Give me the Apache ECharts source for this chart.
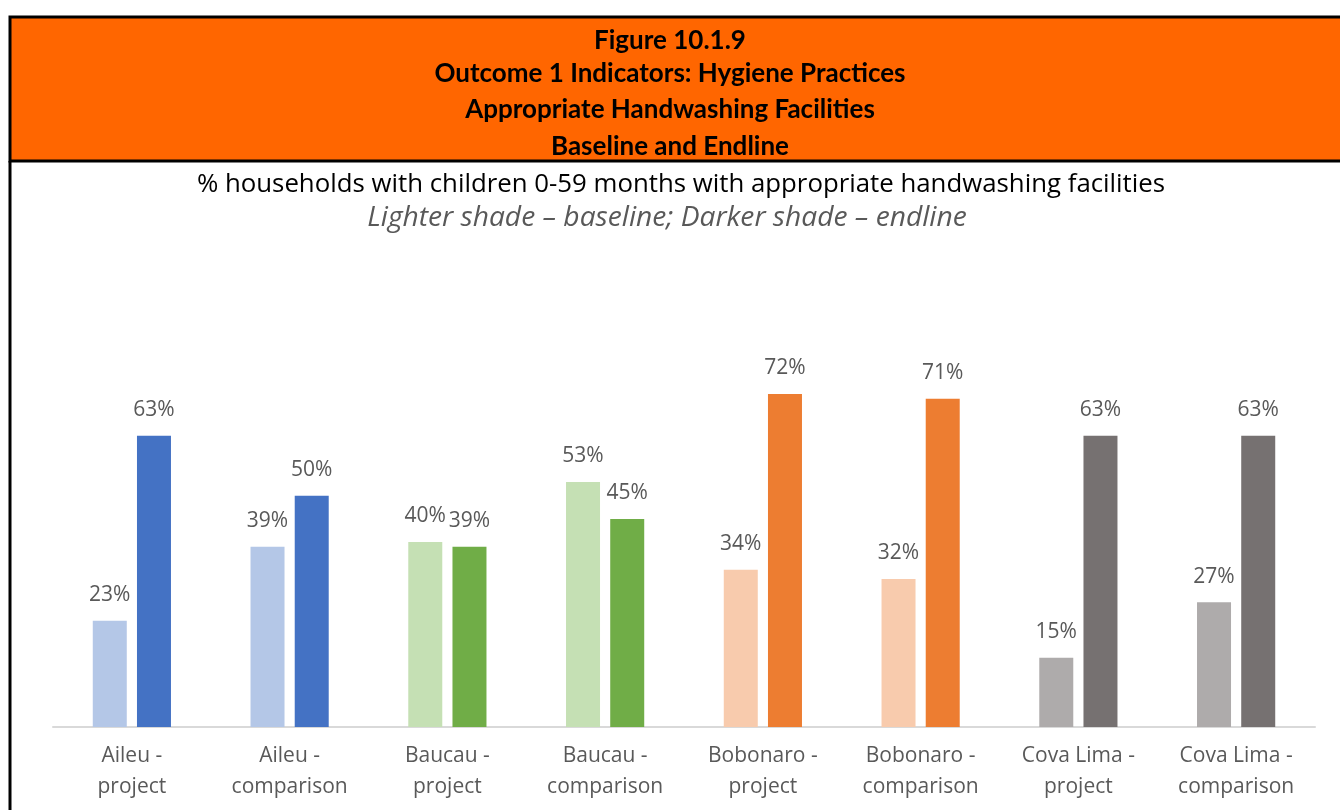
<!DOCTYPE html>
<html>
<head>
<meta charset="utf-8">
<script src="https://cdn.jsdelivr.net/npm/echarts@6/dist/echarts.min.js"></script>
<style>
  html, body { margin: 0; padding: 0; background: #fff; }
  #chart { width: 1340px; height: 810px; }
</style>
</head>
<body>
<div id="chart"></div>
<script>
// Districts and study arms
const categories = [
  'Aileu -\nproject', 'Aileu -\ncomparison',
  'Baucau -\nproject', 'Baucau -\ncomparison',
  'Bobonaro -\nproject', 'Bobonaro -\ncomparison',
  'Cova Lima -\nproject', 'Cova Lima -\ncomparison'
];
// % households with appropriate handwashing facilities
const baseline = [23, 39, 40, 53, 34, 32, 15, 27];
const endline  = [63, 50, 39, 45, 72, 71, 63, 63];

// Shades per district (light = baseline, dark = endline)
const lightShades = ['#B4C7E7', '#B4C7E7', '#C5E0B4', '#C5E0B4', '#F8CBAD', '#F8CBAD', '#AEABAB', '#AEABAB'];
const darkShades  = ['#4472C4', '#4472C4', '#70AD47', '#70AD47', '#ED7D31', '#ED7D31', '#767171', '#767171'];

const headerLines = [
  'Figure 10.1.9',
  'Outcome 1 Indicators: Hygiene Practices',
  'Appropriate Handwashing Facilities',
  'Baseline and Endline'
];
const headerTops = [28, 61, 97, 134];

const chart = echarts.init(document.getElementById('chart'));

const labelStyle = {
  show: true,
  position: 'top',
  distance: 15,
  formatter: '{c}%',
  color: '#595959',
  fontFamily: 'Open Sans',
  fontSize: 21
};

const headerTexts = headerLines.map((t, i) => ({
  type: 'text',
  left: 'center',
  top: headerTops[i],
  style: {
    text: t,
    fill: '#000',
    font: 'bold 26px Lato',
    textAlign: 'center'
  }
}));

chart.setOption({
  animation: false,
  graphic: [
    {
      type: 'rect',
      shape: { x: 10, y: 17, width: 1340, height: 144 },
      style: { fill: '#FF6600', stroke: '#000', lineWidth: 3 },
      z: 0
    },
    {
      type: 'line',
      shape: { x1: 10, y1: 161, x2: 10, y2: 810 },
      style: { stroke: '#000', lineWidth: 3 }
    },
    ...headerTexts,
    {
      type: 'text',
      x: 681,
      y: 185,
      style: {
        text: '% households with children 0-59 months with appropriate handwashing facilities',
        fill: '#000',
        font: '25.8px "Open Sans"',
        textAlign: 'center',
        textVerticalAlign: 'middle'
      }
    },
    {
      type: 'text',
      x: 667,
      y: 218,
      style: {
        text: 'Lighter shade \u2013 baseline; Darker shade \u2013 endline',
        fill: '#595959',
        font: 'italic 28.2px "Open Sans"',
        textAlign: 'center',
        textVerticalAlign: 'middle'
      }
    }
  ],
  grid: { left: 53, right: 25, top: 357, bottom: 83 },
  xAxis: {
    type: 'category',
    data: categories,
    axisLine: { lineStyle: { color: '#D9D9D9', width: 2 } },
    axisTick: { show: false },
    axisLabel: {
      color: '#595959',
      fontFamily: 'Open Sans',
      fontSize: 21,
      lineHeight: 31,
      margin: 14,
      interval: 0
    }
  },
  yAxis: {
    type: 'value',
    min: 0,
    max: 80,
    show: false,
    splitLine: { show: false }
  },
  series: [
    {
      name: 'Baseline',
      type: 'bar',
      data: baseline.map((v, i) => ({ value: v, itemStyle: { color: lightShades[i] } })),
      barWidth: 34,
      barGap: '30%',
      label: labelStyle
    },
    {
      name: 'Endline',
      type: 'bar',
      data: endline.map((v, i) => ({ value: v, itemStyle: { color: darkShades[i] } })),
      barWidth: 34,
      barGap: '30%',
      label: labelStyle
    }
  ]
});
</script>
</body>
</html>
